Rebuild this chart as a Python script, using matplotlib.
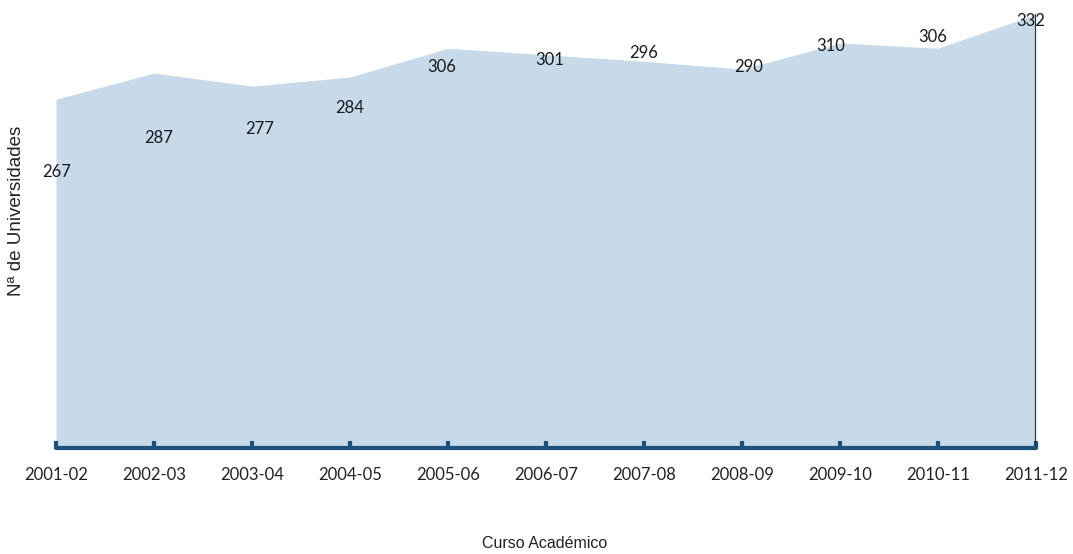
import matplotlib.pyplot as plt
import numpy as np

cursos = ["2001-02", "2002-03", "2003-04", "2004-05", "2005-06", "2006-07",
          "2007-08", "2008-09", "2009-10", "2010-11", "2011-12"]
universidades = [267, 287, 277, 284, 306, 301, 296, 290, 310, 306, 332]
# where the value labels sit in the original (height in data units, shift in px)
label_y = [211, 237, 244, 260, 292, 297, 302, 292, 308, 315, 327]
label_dx = [1, 5, 8, 0, -6, 4, 0, 7, -9, -5, -5]

FILL = "#c6dae9"
AXIS = "#1b4f7c"

fig = plt.figure(figsize=(10.73, 5.54), dpi=100)
ax = fig.add_axes([56 / 1073, 106 / 554, 980 / 1073, 435 / 554])

x = np.arange(len(cursos))
ax.fill_between(x, 0, universidades, color=FILL, lw=0)
ax.vlines(x[-1], 0, universidades[-1], color="#333333", lw=1.6)

for xi, v, ly, dx in zip(x, universidades, label_y, label_dx):
    ax.annotate(str(v), (xi, ly), xytext=(dx * 0.72, 0), textcoords="offset points",
                ha="center", va="center", fontsize=12, family="Lato", color="#1a1a1a")

ax.set_xlim(x[0], x[-1])
ax.set_ylim(0, 333)
ax.set_xticks(x)
ax.set_xticklabels(cursos, family="Lato", fontsize=12, color="#222222")
ax.set_yticks([])
for side in ["top", "right", "left"]:
    ax.spines[side].set_visible(False)
ax.spines["bottom"].set_color(AXIS)
ax.spines["bottom"].set_linewidth(3)
ax.spines["bottom"].set_capstyle("round")
ax.tick_params(axis="x", direction="in", length=5, width=3, color=AXIS, pad=14)

fig.text(17 / 1073, 1 - 211 / 554, "Nª de Universidades", rotation=90,
         ha="center", va="center", fontsize=13.5, family="Liberation Sans", color="#222222")
fig.text(545 / 1073, 1 - 544 / 554, "Curso Académico",
         ha="center", va="center", fontsize=11.5, family="Liberation Sans", color="#222222")

fig.savefig("out.png", dpi=100)
